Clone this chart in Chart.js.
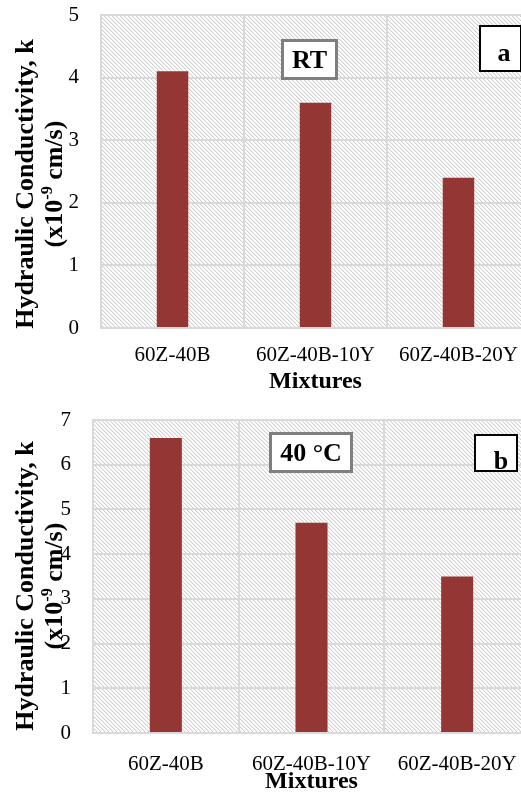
<!DOCTYPE html>
<html><head><meta charset="utf-8">
<script src="https://cdn.jsdelivr.net/npm/chart.js@4.4.1/dist/chart.umd.min.js"></script>
<style>
html,body{margin:0;padding:0;background:#fff;overflow:hidden;width:521px;height:794px;}
body{position:relative;font-family:"Liberation Serif","Times New Roman",serif;color:#000;}
.wrap{position:absolute;left:0;width:540px;}
#w1{top:0;height:395px}
#w2{top:395px;height:399px}
canvas{display:block}
.ytitle{position:absolute;width:340px;text-align:center;font-weight:bold;font-size:26px;line-height:29px;transform:translate(-50%,-50%) rotate(-90deg);white-space:nowrap;}
.ytitle sup{font-size:62%;line-height:0;}
.box{position:absolute;background:#fff;box-sizing:border-box;}
.btxt{position:absolute;font-weight:bold;font-size:26px;line-height:26px;text-align:center;white-space:nowrap;}
</style>
</head><body>
<div class="wrap" id="w1"><canvas id="c1" width="540" height="395"></canvas></div>
<div class="wrap" id="w2"><canvas id="c2" width="540" height="399"></canvas></div>

<div class="ytitle" style="left:39px;top:184px">Hydraulic Conductivity, k<br>(x10<sup>-9</sup> cm/s)</div>
<div class="ytitle" style="left:39px;top:586px">Hydraulic Conductivity, k<br>(x10<sup>-9</sup> cm/s)</div>

<div class="box" style="left:281px;top:39px;width:57px;height:41px;border:3px solid #7f7f7f"></div>
<div class="btxt" style="left:281px;top:47px;width:57px">RT</div>
<div class="box" style="left:479px;top:25px;width:43px;height:47px;border:2px solid #000"></div>
<div class="btxt" style="left:484px;top:40px;width:40px">a</div>

<div class="box" style="left:269px;top:432px;width:84px;height:41px;border:3px solid #7f7f7f"></div>
<div class="btxt" style="left:269px;top:440px;width:84px">40 °C</div>
<div class="box" style="left:474px;top:434px;width:44px;height:38px;border:2px solid #000"></div>
<div class="btxt" style="left:481px;top:448px;width:40px">b</div>

<script>
// ---- data ----
const categories = ['60Z-40B', '60Z-40B-10Y', '60Z-40B-20Y'];
const valuesRT = [4.1, 3.6, 2.4];
const values40C = [6.6, 4.7, 3.5];
const yMaxRT = 5;
const yMax40C = 7;
const xTitle = 'Mixtures';

const FONT = '"Liberation Serif","Times New Roman",serif';
const GRID = '#d9d9d9';
const BAR = '#943634';

function makePattern(ctx) {
  const n = 4;
  const c = document.createElement('canvas');
  c.width = c.height = n;
  const x = c.getContext('2d');
  x.fillStyle = '#fff'; x.fillRect(0, 0, n, n);
  for (let i = 0; i < n; i++) {
    x.fillStyle = '#cfcfcf'; x.fillRect(i, i, 1, 1);
    x.fillStyle = '#f0f0f0'; x.fillRect((i + 1) % n, i, 1, 1);
  }
  return ctx.createPattern(c, 'repeat');
}

const hatchPlugin = {
  id: 'hatch',
  beforeDraw(chart) {
    const {ctx, chartArea: a} = chart;
    ctx.save();
    ctx.fillStyle = makePattern(ctx);
    ctx.fillRect(a.left, a.top, a.right - a.left, a.bottom - a.top);
    ctx.restore();
  }
};

function build(id, values, yMax, cfg) {
  return new Chart(document.getElementById(id), {
    type: 'bar',
    data: {
      labels: categories,
      datasets: [{
        data: values,
        backgroundColor: BAR,
        borderWidth: 0,
        barPercentage: 0.22,
        categoryPercentage: 1
      }]
    },
    options: {
      responsive: false,
      animation: false,
      devicePixelRatio: 1,
      layout: {padding: {left: 0, top: cfg.top, right: 10, bottom: 0}},
      plugins: {legend: {display: false}, tooltip: {enabled: false}},
      scales: {
        x: {
          grid: {color: GRID, lineWidth: 2, drawTicks: false, offset: true},
          border: {display: true, color: GRID, width: 2},
          ticks: {font: {family: FONT, size: 21}, color: '#000', padding: cfg.xPad, maxRotation: 0, autoSkip: false},
          title: {display: true, text: xTitle, color: '#000', font: {family: FONT, size: 24, weight: 'bold', lineHeight: 1}, padding: {top: 0, bottom: cfg.titlePad}},
          afterFit(s) { s.height = cfg.xHeight; s.paddingLeft = 0; s.paddingRight = 0; }
        },
        y: {
          min: 0, max: yMax,
          grid: {color: GRID, lineWidth: 2, drawTicks: false},
          border: {display: true, color: GRID, width: 2},
          ticks: {stepSize: 1, font: {family: FONT, size: 21}, color: '#000', padding: 22},
          afterFit(s) { s.width = cfg.yWidth; s.paddingTop = 0; s.paddingBottom = 0; }
        }
      }
    },
    plugins: [hatchPlugin]
  });
}

build('c1', valuesRT, yMaxRT, {top: 15, xHeight: 67, yWidth: 101, xPad: 15, titlePad: 1});
build('c2', values40C, yMax40C, {top: 25, xHeight: 61, yWidth: 93, xPad: 19, titlePad: 0});
</script>
</body></html>
